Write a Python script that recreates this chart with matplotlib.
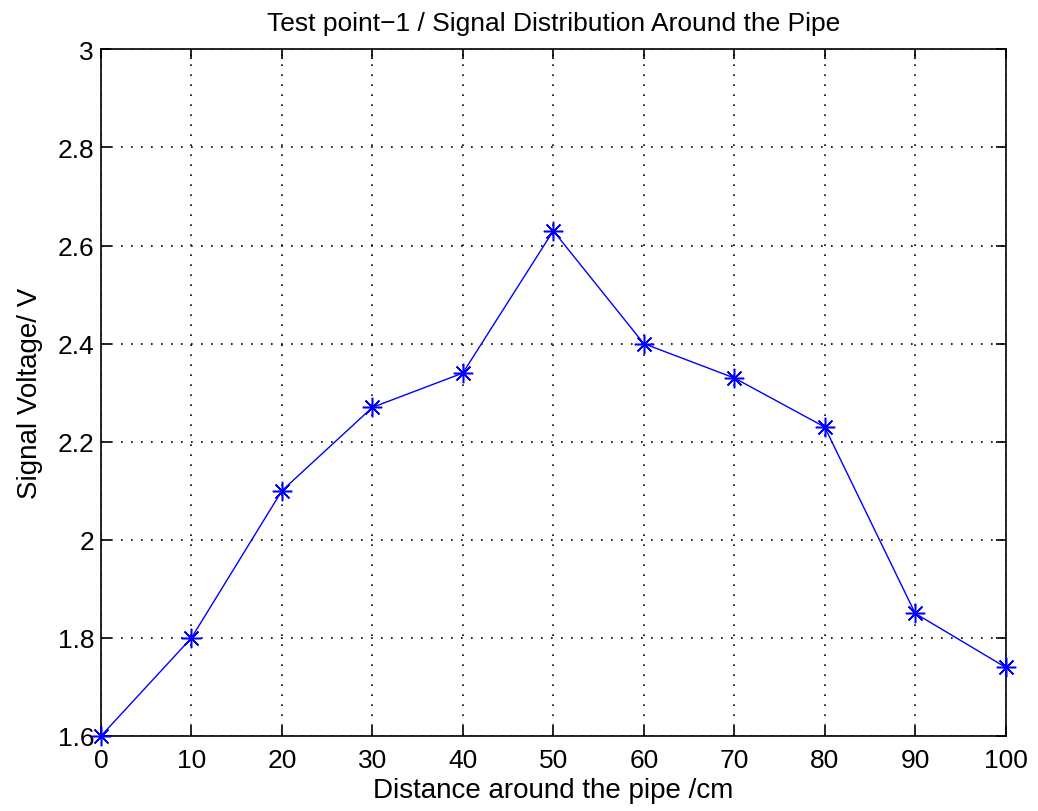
import matplotlib
matplotlib.use('Agg')
import matplotlib.pyplot as plt

plt.rcParams['font.family'] = ['Liberation Sans', 'DejaVu Sans']

distance = [0, 10, 20, 30, 40, 50, 60, 70, 80, 90, 100]
voltage = [1.60, 1.80, 2.10, 2.27, 2.34, 2.63, 2.40, 2.33, 2.23, 1.85, 1.74]
xticks = [0, 10, 20, 30, 40, 50, 60, 70, 80, 90, 100]
yticks = [1.6, 1.8, 2.0, 2.2, 2.4, 2.6, 2.8, 3.0]
ytick_labels = ['1.6', '1.8', '2', '2.2', '2.4', '2.6', '2.8', '3']

fig = plt.figure(figsize=(10.38, 8.12), dpi=100)
ax = fig.add_axes([0.0973, 0.0924, 0.8715, 0.8456])

# matlab-style asterisk: 8 spokes
ax.plot(distance, voltage, color='#0000ff', linewidth=1, marker=(8, 2, 0),
        markersize=14, markeredgewidth=1.1, zorder=3, clip_on=False)

ax.set_xlim(0, 100)
ax.set_ylim(1.6, 3.0)
ax.set_xticks(xticks)
ax.set_yticks(yticks)
ax.set_yticklabels(ytick_labels)
ax.grid(True, linestyle=(0, (1, 5)), color='black', linewidth=1.2)
ax.tick_params(direction='in', top=True, right=True, labelsize=19, length=7, width=1.2, pad=5)
ax.tick_params(axis='x', pad=9)
for s in ax.spines.values():
    s.set_linewidth(1.2)

ax.set_title('Test point\u22121 / Signal Distribution Around the Pipe', fontsize=19, pad=14)
ax.set_xlabel('Distance around the pipe /cm', fontsize=20, labelpad=3)
ax.set_ylabel('Signal Voltage/ V', fontsize=20, labelpad=10)

fig.savefig('out.png', dpi=100)
